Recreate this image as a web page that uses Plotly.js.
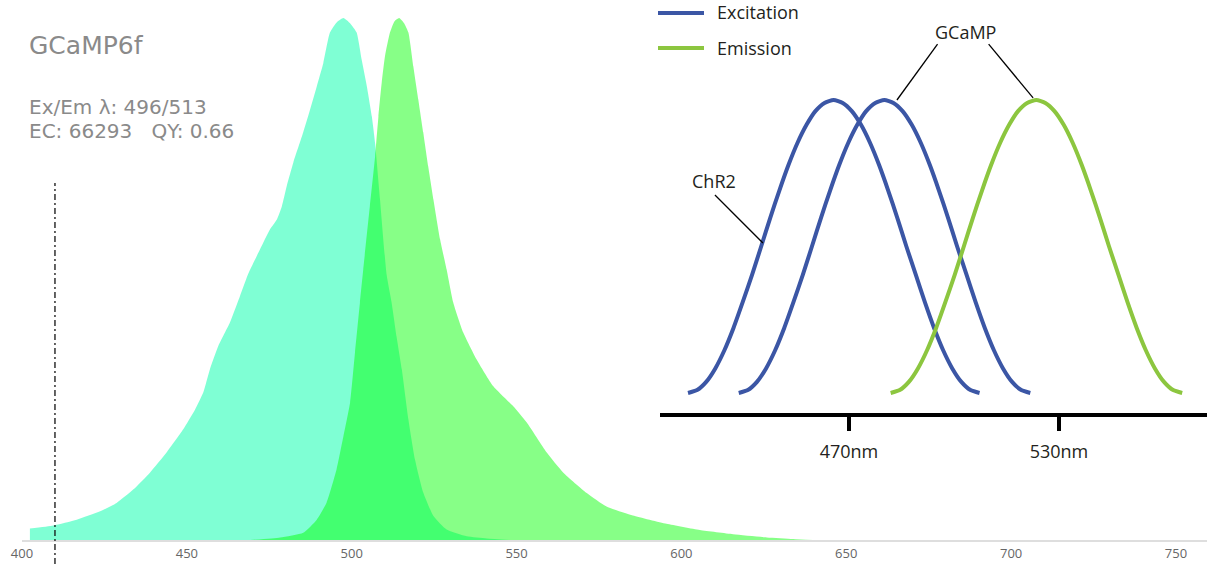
<!DOCTYPE html>
<html>
<head>
<meta charset="utf-8">
<script src="https://cdn.plot.ly/plotly-3.0.1.min.js"></script>
<style>
html,body{margin:0;padding:0;background:#fff;}
#chart{width:1209px;height:564px;}
</style>
</head>
<body>
<div id="chart"></div>
<script>
// ---------- Main spectrum data (GCaMP6f, normalised) ----------
const exWavelength = [402.4, 409.5, 416.6, 423.7, 428.7, 433.8, 438.8, 443.9, 448.9, 452.5, 455.0, 457.0, 459.5, 463.1, 466.1, 468.5, 472.2, 475.2, 477.3, 478.8, 480.3, 482.3, 485.3, 487.4, 489.4, 491.4, 493.4, 495.5, 497.5, 499.5, 501.5, 503.0, 504.6, 506.1, 507.1, 508.6, 510.6, 512.1, 513.6, 515.2, 517.2, 519.2, 521.7, 524.8, 528.8, 534.9, 541.0, 548.0];
const exValues     = [0.022, 0.028, 0.039, 0.055, 0.071, 0.097, 0.129, 0.168, 0.212, 0.250, 0.283, 0.327, 0.371, 0.417, 0.467, 0.508, 0.557, 0.595, 0.614, 0.639, 0.678, 0.723, 0.781, 0.825, 0.869, 0.914, 0.972, 0.992, 1.000, 0.990, 0.972, 0.921, 0.869, 0.812, 0.760, 0.652, 0.508, 0.455, 0.390, 0.327, 0.231, 0.154, 0.091, 0.046, 0.020, 0.007, 0.003, 0.000];

const emWavelength = [469.2, 478.3, 485.3, 489.4, 492.4, 495.4, 497.5, 499.5, 501.0, 502.5, 503.5, 505.5, 507.1, 508.1, 509.1, 510.1, 511.6, 513.0, 514.4, 515.9, 517.2, 518.7, 520.2, 521.7, 523.2, 524.8, 526.8, 528.8, 530.8, 533.8, 537.9, 542.9, 549.0, 553.1, 559.1, 564.2, 571.3, 577.3, 585.3, 595.5, 605.6, 615.7, 625.9, 633.9, 640.0];
const emValues     = [0.000, 0.005, 0.014, 0.039, 0.072, 0.135, 0.199, 0.263, 0.359, 0.455, 0.518, 0.639, 0.735, 0.811, 0.876, 0.927, 0.972, 0.994, 1.000, 0.990, 0.972, 0.907, 0.844, 0.781, 0.716, 0.652, 0.576, 0.518, 0.455, 0.398, 0.346, 0.295, 0.256, 0.225, 0.168, 0.129, 0.090, 0.064, 0.047, 0.031, 0.019, 0.011, 0.005, 0.002, 0.000];

const laserLine = [410];
const mainTicks = [400, 450, 500, 550, 600, 650, 700, 750];

// ---------- Inset schematic data ----------
const chr2ExX  = [424.0, 426.6, 429.2, 431.8, 434.4, 437.0, 439.6, 442.3, 444.9, 447.5, 450.1, 452.7, 455.3, 457.9, 460.4, 463.0, 465.6, 468.2, 470.8, 473.4, 476.0, 478.6, 481.2, 483.8, 486.4, 489.1, 491.7, 494.3, 496.9, 499.5, 502.1, 504.7, 507.3];
const gcampExX = [438.5, 441.1, 443.7, 446.3, 448.9, 451.5, 454.1, 456.8, 459.4, 462.0, 464.6, 467.2, 469.8, 472.4, 474.9, 477.5, 480.1, 482.7, 485.3, 487.9, 490.5, 493.1, 495.7, 498.3, 500.9, 503.6, 506.2, 508.8, 511.4, 514.0, 516.6, 519.2, 521.8];
const gcampEmX = [481.9, 484.5, 487.1, 489.7, 492.3, 494.9, 497.5, 500.2, 502.8, 505.4, 508.0, 510.6, 513.2, 515.8, 518.3, 520.9, 523.5, 526.1, 528.7, 531.3, 533.9, 536.5, 539.1, 541.7, 544.3, 547.0, 549.6, 552.2, 554.8, 557.4, 560.0, 562.6, 565.2];
const chr2ExY  = [0, 0.010, 0.038, 0.084, 0.146, 0.222, 0.309, 0.403, 0.5, 0.598, 0.691, 0.778, 0.854, 0.916, 0.962, 0.990, 1, 0.990, 0.962, 0.916, 0.854, 0.778, 0.691, 0.598, 0.5, 0.403, 0.309, 0.222, 0.146, 0.084, 0.038, 0.010, 0];
const gcampExY = [0, 0.010, 0.038, 0.084, 0.146, 0.222, 0.309, 0.403, 0.5, 0.598, 0.691, 0.778, 0.854, 0.916, 0.962, 0.990, 1, 0.990, 0.962, 0.916, 0.854, 0.778, 0.691, 0.598, 0.5, 0.403, 0.309, 0.222, 0.146, 0.084, 0.038, 0.010, 0];
const gcampEmY = [0, 0.010, 0.038, 0.084, 0.146, 0.222, 0.309, 0.403, 0.5, 0.598, 0.691, 0.778, 0.854, 0.916, 0.962, 0.990, 1, 0.990, 0.962, 0.916, 0.854, 0.778, 0.691, 0.598, 0.5, 0.403, 0.309, 0.222, 0.146, 0.084, 0.038, 0.010, 0];
const insetTicks = [470, 530];
const insetTickText = ['470nm', '530nm'];

// ---------- Layout geometry helpers (non-data elements) ----------
const W = 1209, H = 564, L = 22, R = 2, T = 18, B = 24;
const PW = W - L - R, PH = H - T - B;
const px = v => (v - L) / PW;          // pixel -> paper x
const py = v => (H - B - v) / PH;      // pixel -> paper y

const BLUE = '#3b56a5', GREEN = '#8cc63f';

const traces = [
  {x: exWavelength, y: exValues, type: 'scatter', mode: 'lines', fill: 'tozeroy',
   fillcolor: 'rgba(0,255,170,0.5)', line: {width: 0, shape: 'spline', smoothing: 0.5},
   xaxis: 'x', yaxis: 'y', hoverinfo: 'skip', showlegend: false},
  {x: emWavelength, y: emValues, type: 'scatter', mode: 'lines', fill: 'tozeroy',
   fillcolor: 'rgba(0,255,0,0.47)', line: {width: 0, shape: 'spline', smoothing: 0.5},
   xaxis: 'x', yaxis: 'y', hoverinfo: 'skip', showlegend: false},
  {x: chr2ExX, y: chr2ExY, type: 'scatter', mode: 'lines',
   line: {color: BLUE, width: 4, shape: 'spline', smoothing: 0.6}, xaxis: 'x2', yaxis: 'y2', showlegend: false},
  {x: gcampExX, y: gcampExY, type: 'scatter', mode: 'lines',
   line: {color: BLUE, width: 4, shape: 'spline', smoothing: 0.6}, xaxis: 'x2', yaxis: 'y2', showlegend: false},
  {x: gcampEmX, y: gcampEmY, type: 'scatter', mode: 'lines',
   line: {color: GREEN, width: 4, shape: 'spline', smoothing: 0.6}, xaxis: 'x2', yaxis: 'y2', showlegend: false}
];

const darkText = {family: 'Open Sans', size: 18, color: '#231f20'};
const greyText = {family: 'DejaVu Sans', color: '#8a8a8a'};

const layout = {
  width: W, height: H,
  margin: {l: L, r: R, t: T, b: B, pad: 0},
  paper_bgcolor: '#ffffff', plot_bgcolor: 'rgba(0,0,0,0)',
  showlegend: false,
  xaxis: {
    range: [400, 400 + PW / 3.297], domain: [0, 1], anchor: 'y',
    tickvals: mainTicks, ticks: '', showgrid: false, zeroline: false,
    showline: true, linecolor: '#dedede', linewidth: 2,
    tickfont: {family: 'Open Sans', size: 13, color: '#666'}
  },
  yaxis: {range: [0, 1], domain: [0, 1], visible: false, fixedrange: true},
  xaxis2: {
    domain: [px(660), 1], anchor: 'y2',
    range: [470 - (849 - 660) / 3.5, 470 + (W - R - 849) / 3.5],
    tickvals: insetTicks, ticktext: insetTickText,
    ticks: 'outside', ticklen: 14, tickwidth: 4, tickcolor: '#000',
    showline: true, linecolor: '#000', linewidth: 4,
    showgrid: false, zeroline: false, ticklabelstandoff: 5,
    tickfont: darkText
  },
  yaxis2: {
    domain: [py(413), 1], anchor: 'x2',
    range: [-(413 - 393) / 293, (393 - T) / 293],
    visible: false
  },
  shapes: [
    // laser line
    {type: 'line', xref: 'x', yref: 'paper', x0: laserLine[0], x1: laserLine[0],
     y0: py(564), y1: py(183), line: {color: '#111', width: 1.3, dash: '6px,3px,2px,3px'}},
    // legend samples
    {type: 'line', xref: 'paper', yref: 'paper', x0: px(658), x1: px(704), y0: py(13), y1: py(13),
     line: {color: BLUE, width: 4}},
    {type: 'line', xref: 'paper', yref: 'paper', x0: px(658), x1: px(704), y0: py(48), y1: py(48),
     line: {color: GREEN, width: 4}},
    // leader lines
    {type: 'line', xref: 'x2', yref: 'y2', x0: 495.3, y0: 1.191, x1: 483.7, y1: 1.0,
     line: {color: '#000', width: 1.3}},
    {type: 'line', xref: 'x2', yref: 'y2', x0: 509.9, y0: 1.191, x1: 522.6, y1: 1.007,
     line: {color: '#000', width: 1.3}},
    {type: 'line', xref: 'x2', yref: 'y2', x0: 431.7, y0: 0.676, x1: 445.4, y1: 0.512,
     line: {color: '#000', width: 1.3}}
  ],
  annotations: [
    {xref: 'paper', yref: 'paper', x: px(27), y: py(45), xanchor: 'left', yanchor: 'middle',
     text: 'GCaMP6f', showarrow: false, font: Object.assign({size: 25}, greyText)},
    {xref: 'paper', yref: 'paper', x: px(27), y: py(107), xanchor: 'left', yanchor: 'middle',
     text: 'Ex/Em λ: 496/513', showarrow: false, font: Object.assign({size: 20}, greyText)},
    {xref: 'paper', yref: 'paper', x: px(27), y: py(130.5), xanchor: 'left', yanchor: 'middle',
     text: 'EC: 66293\u00a0\u00a0\u00a0QY: 0.66', showarrow: false, font: Object.assign({size: 20}, greyText)},
    {xref: 'paper', yref: 'paper', x: px(715), y: py(12), xanchor: 'left', yanchor: 'middle',
     text: 'Excitation', showarrow: false, font: darkText},
    {xref: 'paper', yref: 'paper', x: px(715), y: py(48), xanchor: 'left', yanchor: 'middle',
     text: 'Emission', showarrow: false, font: darkText},
    {xref: 'x2', yref: 'y2', x: 503.3, y: 1.232, xanchor: 'center', yanchor: 'middle',
     text: 'GCaMP', showarrow: false, font: darkText},
    {xref: 'x2', yref: 'y2', x: 431.3, y: 0.724, xanchor: 'center', yanchor: 'middle',
     text: 'ChR2', showarrow: false, font: darkText}
  ]
};

Plotly.newPlot('chart', traces, layout, {staticPlot: true, displayModeBar: false});
</script>
</body>
</html>
